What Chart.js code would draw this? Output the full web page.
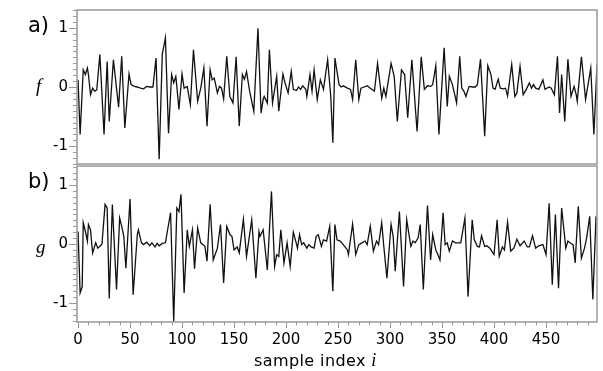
<!DOCTYPE html>
<html>
<head>
<meta charset="utf-8">
<script src="https://cdn.jsdelivr.net/npm/chart.js@4.4.1/dist/chart.umd.min.js"></script>
<style>
  html, body { margin: 0; padding: 0; background: #fff; }
  #wrap { position: relative; width: 603px; height: 371px; overflow: hidden; }
  #wrap canvas { position: absolute; left: 0; }
  .lbl { position: absolute; white-space: nowrap; line-height: 1; color: #000; }
  .sans { font-family: "DejaVu Sans", sans-serif; }
  .serif { font-family: "Liberation Serif", serif; font-style: italic; }
</style>
</head>
<body>
<div id="wrap">
  <canvas id="chart-f" width="603" height="165" style="top:0"></canvas>
  <canvas id="chart-g" width="603" height="206" style="top:165px"></canvas>
  <div class="lbl sans" style="left:28px; top:15px; font-size:21px">a)</div>
  <div class="lbl sans" style="left:28px; top:171px; font-size:21px">b)</div>
  <div class="lbl serif" style="left:36px; top:76px; font-size:19px">f</div>
  <div class="lbl serif" style="left:36px; top:237px; font-size:19px">g</div>
  <div class="lbl sans" style="left:254px; top:351px; font-size:16px; letter-spacing:0.4px">sample index <span class="serif" style="font-size:18px">i</span></div>
</div>
<script>
// ========================
// Dados (vértices)
// ========================
const fIdx = [
  0, 2, 5, 7, 9, 10, 12, 14, 16, 18,
  21, 25, 28, 30, 34, 39, 42, 45, 49, 51,
  54, 57, 60, 63, 66, 69, 72, 75, 78, 81,
  84, 87, 90, 92, 94, 95, 97, 100, 102, 105,
  108, 111, 115, 118, 121, 124, 127, 129, 131, 134,
  136, 138, 140, 143, 146, 149, 152, 155, 158, 160,
  162, 165, 169, 173, 176, 178, 179, 182, 184, 187,
  191, 193, 197, 199, 202, 205, 207, 210, 212, 214,
  216, 219, 220, 223, 225, 227, 230, 233, 236, 240,
  243, 245, 247, 251, 253, 255, 259, 262, 264, 267,
  270, 272, 275, 278, 281, 285, 288, 292, 294, 296,
  301, 304, 307, 311, 314, 317, 321, 326, 330, 333,
  336, 339, 341, 344, 347, 352, 355, 357, 360, 364,
  367, 369, 371, 373, 376, 379, 382, 384, 387, 391,
  394, 397, 399, 401, 404, 406, 409, 411, 413, 417,
  420, 422, 425, 428, 431, 434, 436, 438, 440, 443,
  447, 449, 453, 455, 458, 461, 463, 465, 468, 471,
  474, 477, 479, 480, 484, 488, 493, 496, 499
];
const fVal = [
  0.12, -0.80, 0.29, 0.21, 0.32, 0.21, -0.13, -0.02, -0.07, -0.05,
  0.55, -0.80, 0.43, -0.58, 0.46, -0.34, 0.52, -0.69, 0.22, 0.04,
  0.01, 0.00, -0.02, -0.03, 0.01, 0.00, 0.00, 0.49, -1.22, 0.55,
  0.83, -0.78, 0.21, 0.07, 0.18, 0.01, -0.38, 0.22, -0.02, 0.01,
  -0.30, 0.63, -0.24, -0.02, 0.32, -0.66, 0.29, 0.12, 0.15, -0.10,
  0.01, -0.02, -0.20, 0.52, -0.16, -0.27, 0.51, -0.66, 0.21, 0.13,
  0.26, -0.07, -0.41, 0.99, -0.44, -0.21, -0.16, -0.27, 0.63, -0.27,
  0.18, -0.41, 0.22, 0.07, -0.10, 0.26, -0.04, -0.06, 0.00, -0.04,
  0.02, -0.04, -0.16, 0.21, -0.07, 0.29, -0.21, 0.12, -0.04, 0.46,
  -0.16, -0.94, 0.49, 0.04, 0.00, 0.02, -0.02, -0.04, -0.21, 0.46,
  -0.21, -0.02, 0.00, 0.02, -0.02, -0.07, 0.40, -0.19, -0.02, -0.16,
  0.40, 0.18, -0.58, 0.29, 0.21, -0.52, 0.46, -0.75, 0.51, -0.04,
  0.02, 0.01, 0.04, 0.36, -0.80, 0.66, -0.33, 0.18, 0.04, -0.27,
  0.52, -0.02, -0.07, -0.16, 0.01, 0.00, 0.00, 0.04, 0.47, -0.83,
  0.36, 0.21, -0.02, -0.04, 0.13, -0.02, -0.03, -0.02, -0.15, 0.38,
  -0.16, -0.10, 0.35, -0.13, -0.04, 0.07, -0.02, 0.04, -0.02, -0.04,
  0.12, -0.04, 0.00, -0.02, -0.13, 0.52, -0.44, 0.21, -0.58, 0.47,
  -0.16, 0.01, -0.13, -0.24, 0.51, -0.21, 0.32, -0.80, 0.38
];

const gIdx = [
  0, 2, 4, 5, 7, 9, 10, 12, 14, 17,
  19, 21, 23, 26, 28, 30, 33, 37, 40, 42,
  44, 46, 50, 53, 57, 58, 61, 63, 66, 69,
  71, 74, 76, 78, 81, 84, 89, 92, 95, 97,
  99, 102, 105, 107, 110, 112, 115, 118, 120, 122,
  124, 127, 130, 134, 137, 140, 143, 146, 148, 150,
  153, 155, 159, 162, 167, 171, 174, 175, 178, 182,
  186, 189, 191, 193, 195, 198, 201, 204, 207, 209,
  211, 213, 215, 217, 220, 222, 224, 227, 229, 231,
  234, 236, 239, 242, 245, 247, 249, 252, 255, 259,
  260, 264, 267, 270, 273, 276, 278, 281, 284, 287,
  289, 292, 294, 297, 301, 303, 305, 309, 313, 316,
  320, 322, 324, 327, 329, 332, 336, 339, 341, 344,
  346, 348, 351, 353, 355, 357, 360, 363, 368, 372,
  375, 379, 381, 384, 386, 388, 391, 393, 396, 400,
  403, 405, 408, 410, 413, 416, 419, 422, 425, 429,
  432, 434, 437, 440, 443, 447, 450, 453, 456, 459,
  462, 465, 469, 471, 473, 476, 478, 481, 484, 487,
  489, 492, 495, 498, 499
];
const gVal = [
  0.21, -0.83, -0.72, 0.36, 0.22, 0.05, 0.33, 0.24, -0.15, 0.02,
  -0.07, -0.04, 0.00, 0.67, 0.61, -0.92, 0.67, -0.77, 0.44, 0.30,
  0.13, -0.41, 0.76, -0.86, 0.16, 0.24, 0.02, -0.01, 0.03, -0.03,
  0.02, -0.05, 0.01, -0.03, 0.01, 0.02, 0.53, -1.31, 0.61, 0.55,
  0.84, -0.83, 0.24, -0.04, 0.24, -0.42, 0.27, 0.02, -0.01, -0.04,
  -0.29, 0.67, -0.27, -0.07, 0.33, -0.66, 0.30, 0.16, 0.13, -0.10,
  -0.05, -0.15, 0.42, -0.21, 0.41, -0.58, 0.21, 0.13, 0.24, -0.44,
  0.89, -0.38, -0.18, -0.21, 0.24, -0.32, 0.02, -0.38, 0.20, 0.07,
  -0.07, 0.16, -0.01, 0.02, -0.07, -0.01, -0.05, -0.07, 0.13, 0.16,
  -0.04, 0.07, 0.05, 0.30, -0.80, 0.33, 0.07, 0.05, -0.01, -0.10,
  -0.18, 0.34, -0.18, -0.01, 0.02, 0.05, -0.01, 0.30, -0.12, 0.05,
  -0.01, 0.36, -0.04, -0.58, 0.33, 0.13, -0.46, 0.55, -0.72, 0.41,
  -0.04, 0.05, 0.02, 0.10, 0.33, -0.77, 0.65, -0.27, 0.16, -0.10,
  -0.18, -0.27, 0.53, -0.01, 0.02, -0.12, 0.05, 0.02, 0.02, 0.44,
  -0.89, 0.41, 0.07, -0.04, -0.05, 0.14, -0.04, -0.03, -0.07, -0.18,
  0.41, -0.21, -0.05, -0.10, 0.37, -0.12, -0.07, 0.08, -0.03, 0.05,
  -0.05, -0.05, 0.14, -0.07, -0.03, -0.01, -0.18, 0.69, -0.69, 0.50,
  -0.75, 0.61, -0.07, 0.05, 0.02, -0.01, -0.32, 0.64, -0.24, -0.07,
  0.10, 0.47, -0.94, 0.44, 0.40
];

// rótulos dos eixos
const xLabels = [0, 50, 100, 150, 200, 250, 300, 350, 400, 450];
const yLabels = [-1, 0, 1];

// ========================
// Moldura e marcas dos eixos
// ========================
const frameColor = "#999";

const molduraPlugin = {
  id: "moldura",
  afterDraw(chart) {
    const ctx = chart.ctx;
    const a = chart.chartArea;
    const ys = chart.scales.y;
    const xs = chart.scales.x;
    ctx.save();
    ctx.strokeStyle = frameColor;
    ctx.lineWidth = 1.5;
    ctx.strokeRect(a.left, a.top, a.right - a.left, a.bottom - a.top);

    ctx.lineWidth = 1;
    ctx.beginPath();
    // marcas do eixo y a cada 0.1
    for (let k = -13; k <= 13; k++) {
      const py = Math.round(ys.getPixelForValue(k / 10)) + 0.5;
      if (py < a.top - 1 || py > a.bottom + 1) continue;
      const len = k % 10 === 0 ? 8 : 4;
      ctx.moveTo(a.left - len, py);
      ctx.lineTo(a.left, py);
    }
    // marcas do eixo x a cada 10 (só no painel de baixo)
    if (xs.options.display) {
      for (let v = 0; v <= 490; v += 10) {
        const px = Math.round(xs.getPixelForValue(v)) + 0.5;
        const len = v % 50 === 0 ? 6 : 3.5;
        ctx.moveTo(px, a.bottom);
        ctx.lineTo(px, a.bottom + len);
      }
    }
    ctx.stroke();
    ctx.restore();
  }
};

function criarPainel(canvasId, idx, vals, yLim, mostrarX, padding) {
  const ctx = document.getElementById(canvasId).getContext("2d");
  return new Chart(ctx, {
    type: "line",
    data: {
      datasets: [{
        data: idx.map((x, i) => ({ x: x, y: vals[i] })),
        borderColor: "#111",
        borderWidth: 1.3,
        pointRadius: 0,
        tension: 0,
        fill: false
      }]
    },
    options: {
      responsive: false,
      animation: false,
      devicePixelRatio: 1,
      layout: { padding: padding },
      plugins: { legend: { display: false }, tooltip: { enabled: false } },
      scales: {
        x: {
          type: "linear",
          min: -1,
          max: 499,
          display: mostrarX,
          grid: { display: false },
          border: { display: false },
          afterBuildTicks: s => { s.ticks = xLabels.map(v => ({ value: v })); },
          afterFit: s => {
            s.height = mostrarX ? 49 : 0;
            s.paddingLeft = 0;
            s.paddingRight = 0;
          },
          ticks: {
            autoSkip: false,
            maxRotation: 0,
            padding: 1,
            color: "#000",
            font: { family: "DejaVu Sans", size: 15 },
            callback: v => String(v)
          }
        },
        y: {
          min: -yLim,
          max: yLim,
          grid: { display: false },
          border: { display: false },
          afterBuildTicks: s => { s.ticks = yLabels.map(v => ({ value: v })); },
          afterFit: s => {
            s.width = 77;
            s.paddingTop = 0;
            s.paddingBottom = 0;
          },
          ticks: {
            autoSkip: false,
            padding: 1,
            color: "#000",
            font: { family: "DejaVu Sans", size: 15 },
            callback: v => String(v)
          }
        }
      }
    },
    plugins: [molduraPlugin]
  });
}

criarPainel("chart-f", fIdx, fVal, 1.3, false, { top: 10, right: 6, bottom: 1, left: 0 });
criarPainel("chart-g", gIdx, gVal, 1.32, true, { top: 1, right: 6, bottom: 0, left: 0 });
</script>
</body>
</html>
